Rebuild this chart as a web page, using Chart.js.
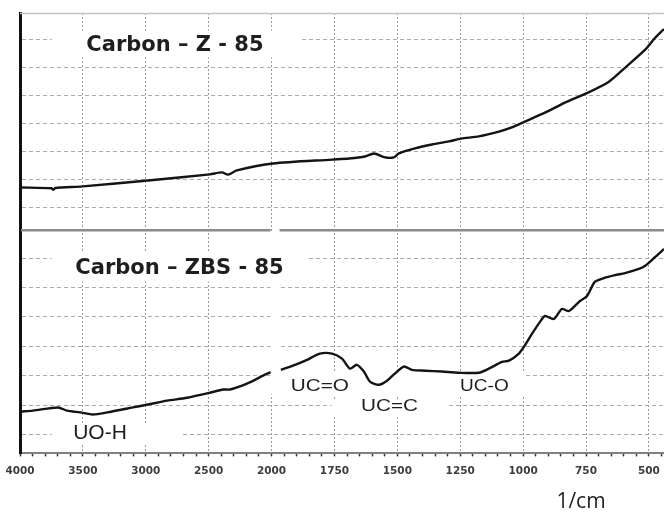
<!DOCTYPE html>
<html>
<head>
<meta charset="utf-8">
<title>FTIR spectra</title>
<script src="https://cdn.jsdelivr.net/npm/chart.js@4.4.1/dist/chart.umd.min.js"></script>
<style>
  html, body { margin: 0; padding: 0; background: #fff; }
  #wrap { width: 664px; height: 513px; }
</style>
</head>
<body>
<div id="wrap"><canvas id="ftir" width="664" height="513"></canvas></div>
<script>
// ---- Wavenumber axis (1/cm) ----
const axisTicksLabelled = [4000, 3500, 3000, 2500, 2000, 1750, 1500, 1250, 1000, 750, 500];

// ---- Carbon – Z - 85 (upper trace) ----
const zWavenumber = [3990, 3750, 3735, 3720, 3500, 2982, 2490, 2394, 2346, 2276, 1994, 1760, 1692, 1629,
  1593, 1549, 1514, 1494, 1430, 1362, 1295, 1247, 1176, 1096, 1045, 993, 913, 834, 742, 659, 595, 516, 476, 448, 440];
const zSignal = [1.71, 1.68, 1.63, 1.69, 1.75, 1.96, 2.18, 2.25, 2.17, 2.32, 2.57, 2.71, 2.75, 2.82,
  2.93, 2.79, 2.79, 2.93, 3.11, 3.25, 3.36, 3.46, 3.54, 3.71, 3.86, 4.07, 4.39, 4.75, 5.11, 5.50, 6.00, 6.64, 7.07, 7.32, 7.38];

// ---- Carbon – ZBS - 85 (lower trace; the recorder break at 2000 leaves a gap) ----
const zbsWavenumber = [3990, 3897, 3698, 3626, 3523, 3420, 3308, 3102, 2982, 2831, 2672, 2490, 2386, 2330, 2196, 2068, 2008,
  1985,
  1963, 1915, 1859, 1808, 1760, 1720, 1688, 1661, 1633, 1609, 1573, 1541, 1510, 1474, 1442, 1390, 1323, 1255, 1176, 1136,
  1084, 1056, 1017, 997, 965, 933, 913, 878, 846, 818, 774, 746, 715, 679, 635, 595, 540, 516, 476, 440];
const zbsSignal = [1.78, 1.81, 1.92, 1.81, 1.75, 1.68, 1.75, 1.92, 2.02, 2.15, 2.25, 2.42, 2.53, 2.53, 2.73, 3.00, 3.12,
  null,
  3.20, 3.34, 3.54, 3.75, 3.75, 3.58, 3.24, 3.37, 3.14, 2.80, 2.69, 2.83, 3.07, 3.31, 3.20, 3.17, 3.14, 3.10, 3.10, 3.24,
  3.47, 3.51, 3.75, 3.98, 4.42, 4.83, 5.03, 4.93, 5.27, 5.20, 5.54, 5.71, 6.19, 6.32, 6.42, 6.49, 6.63, 6.73, 7.03, 7.31];

// Horizontal grid rows in each panel
const gridRows = [1, 2, 3, 4, 5, 6, 7];

// Panel titles and band assignments: text, panel axis, wavenumber, level
const annotations = [
  { text: 'Carbon \u2013 Z - 85',   axis: 'yT', wn: 2768, level: 6.80, font: 'bold 21px "DejaVu Sans"', stretch: 1,    box: [-123, 125, -15, 12] },
  { text: 'Carbon \u2013 ZBS - 85', axis: 'yB', wn: 2732, level: 6.64, font: 'bold 21px "DejaVu Sans"', stretch: 1,    box: [-128, 127, -17, 13] },
  { text: 'UO-H',                   axis: 'yB', wn: 3364, level: 1.05, font: '20px "Liberation Sans"',  stretch: 1.05, box: [-48, 80, -10, 10] },
  { text: 'UC=O',                   axis: 'yB', wn: 1808, level: 2.64, font: '17px "Liberation Sans"',  stretch: 1.22, box: [-39, 80, -14, 9] },
  { text: 'UC=C',                   axis: 'yB', wn: 1531, level: 1.95, font: '17px "Liberation Sans"',  stretch: 1.22, box: [-58, 58, -7, 11] },
  { text: 'UC-O',                   axis: 'yB', wn: 1154, level: 2.64, font: '17px "Liberation Sans"',  stretch: 1.12, box: [-85, 41, -14, 9] }
];

// ---- Wavenumber scale: 4000-2000 is drawn at half the scale of 2000-400 ----
const AXIS_TOP = 4000;
const AXIS_BREAK = 2000;
function axisPos(v) {
  return v >= AXIS_BREAK ? (AXIS_TOP - v) / 2 : (AXIS_TOP - AXIS_BREAK) / 2 + (AXIS_BREAK - v);
}
function axisValue(t) {
  const tb = axisPos(AXIS_BREAK);
  return t <= tb ? AXIS_TOP - 2 * t : AXIS_BREAK - (t - tb);
}

class WavenumberScale extends Chart.LinearScale {
  buildTicks() {
    const ticks = [];
    for (let v = this.max; v >= this.min; v -= (v > AXIS_BREAK ? 100 : 50)) {
      ticks.push({ value: v });
    }
    return ticks;
  }
  getPixelForValue(value) {
    if (value === null || value === undefined || isNaN(value)) return NaN;
    const t0 = axisPos(this.max), span = axisPos(this.min) - t0;
    return this.getPixelForDecimal((axisPos(value) - t0) / span);
  }
  getValueForPixel(pixel) {
    const t0 = axisPos(this.max), span = axisPos(this.min) - t0;
    return axisValue(t0 + this.getDecimalForPixel(pixel) * span);
  }
}
WavenumberScale.id = 'wavenumber';
WavenumberScale.defaults = Chart.LinearScale.defaults;
Chart.register(WavenumberScale);

const BREAK_GAP = 9;          // white gap after the break at 2000 (px)
const BREAK_BAND_LEVEL = 2.4; // the gap runs down to this level in the lower panel

const panelDecor = {
  id: 'panelDecor',
  beforeDatasetsDraw(chart) {
    const { ctx, chartArea, scales } = chart;
    const x = scales.x, yT = scales.yT, yB = scales.yB;
    const xb = x.getPixelForValue(AXIS_BREAK);
    ctx.save();
    ctx.fillStyle = '#ffffff';
    // gap at the axis break, lower panel
    ctx.fillRect(xb - 1, yB.top + 1, BREAK_GAP, yB.getPixelForValue(BREAK_BAND_LEVEL) - yB.top);
    // white boxes behind the annotations
    for (const a of annotations) {
      const cx = x.getPixelForValue(a.wn), cy = scales[a.axis].getPixelForValue(a.level);
      ctx.fillRect(cx + a.box[0], cy + a.box[2], a.box[1] - a.box[0], a.box[3] - a.box[2]);
    }
    // top frame line
    ctx.strokeStyle = '#c4c4c4';
    ctx.lineWidth = 1.5;
    ctx.beginPath();
    ctx.moveTo(chartArea.left, chartArea.top + 0.5);
    ctx.lineTo(chartArea.right, chartArea.top + 0.5);
    ctx.stroke();
    // divider between the two panels, broken at 2000
    const yd = yT.bottom;
    ctx.strokeStyle = '#8a8a8a';
    ctx.lineWidth = 2.5;
    ctx.beginPath();
    ctx.moveTo(chartArea.left + 1, yd);
    ctx.lineTo(xb - 1, yd);
    ctx.moveTo(xb - 1 + BREAK_GAP, yd);
    ctx.lineTo(chartArea.right, yd);
    ctx.stroke();
    // annotation texts
    ctx.fillStyle = '#1e1e1e';
    ctx.textAlign = 'center';
    ctx.textBaseline = 'middle';
    for (const a of annotations) {
      const cx = x.getPixelForValue(a.wn), cy = scales[a.axis].getPixelForValue(a.level);
      ctx.save();
      ctx.font = a.font;
      ctx.translate(cx, cy);
      ctx.scale(a.stretch, 1);
      ctx.fillText(a.text, 0, 0);
      ctx.restore();
    }
    ctx.restore();
  },
  afterDraw(chart) {
    const { ctx, chartArea } = chart;
    ctx.save();
    ctx.fillStyle = '#1e1e1e';
    ctx.font = '21px "Open Sans"';
    ctx.textAlign = 'center';
    ctx.textBaseline = 'middle';
    ctx.fillText('1/cm', chartArea.right - 83, chart.height - 11);
    ctx.restore();
  }
};

const traceStyle = { borderColor: '#141414', borderWidth: 2.4, pointRadius: 0, tension: 0.25, fill: false, spanGaps: false };

new Chart(document.getElementById('ftir'), {
  type: 'line',
  data: {
    datasets: [
      { label: 'Carbon \u2013 Z - 85', xAxisID: 'x', yAxisID: 'yT',
        data: zWavenumber.map((w, i) => ({ x: w, y: zSignal[i] })), ...traceStyle },
      { label: 'Carbon \u2013 ZBS - 85', xAxisID: 'x', yAxisID: 'yB',
        data: zbsWavenumber.map((w, i) => ({ x: w, y: zbsSignal[i] })), ...traceStyle }
    ]
  },
  options: {
    responsive: false,
    animation: false,
    devicePixelRatio: 1,
    layout: { padding: { top: 13, left: 20, right: 0, bottom: 26 } },
    plugins: { legend: { display: false }, tooltip: { enabled: false } },
    scales: {
      x: {
        type: 'wavenumber',
        min: 440,
        max: 4000,
        afterFit: s => { s.paddingLeft = 0; s.paddingRight = 0; },
        border: { display: true, color: '#808080', width: 2, dash: [2, 2] },
        grid: {
          color: c => axisTicksLabelled.includes(c.tick && c.tick.value) ? '#9a9a9a' : 'rgba(0,0,0,0)',
          lineWidth: 1,
          drawTicks: true,
          tickLength: 3,
          tickColor: '#333',
          tickWidth: 1.5
        },
        ticks: {
          autoSkip: false,
          maxRotation: 0,
          padding: 9,
          color: '#3c3c3c',
          font: { family: '"DejaVu Sans"', size: 10.5, weight: 'bold' },
          callback: v => axisTicksLabelled.includes(v) ? String(v) : ''
        }
      },
      yB: {
        type: 'linear', position: 'left', stack: 'panels', stackWeight: 224,
        min: 0.356, max: 7.949,
        afterBuildTicks: ax => { ax.ticks = gridRows.map(v => ({ value: v })); },
        ticks: { display: false },
        grid: { color: '#ababab', lineWidth: 1, drawTicks: false },
        border: { display: true, color: '#111', width: 3, dash: [4, 3] }
      },
      yT: {
        type: 'linear', position: 'left', stack: 'panels', stackWeight: 218,
        min: 0.178, max: 7.964,
        afterBuildTicks: ax => { ax.ticks = gridRows.map(v => ({ value: v })); },
        ticks: { display: false },
        grid: { color: '#ababab', lineWidth: 1, drawTicks: false },
        border: { display: true, color: '#111', width: 3, dash: [4, 3] }
      }
    }
  },
  plugins: [panelDecor]
});
</script>
</body>
</html>
